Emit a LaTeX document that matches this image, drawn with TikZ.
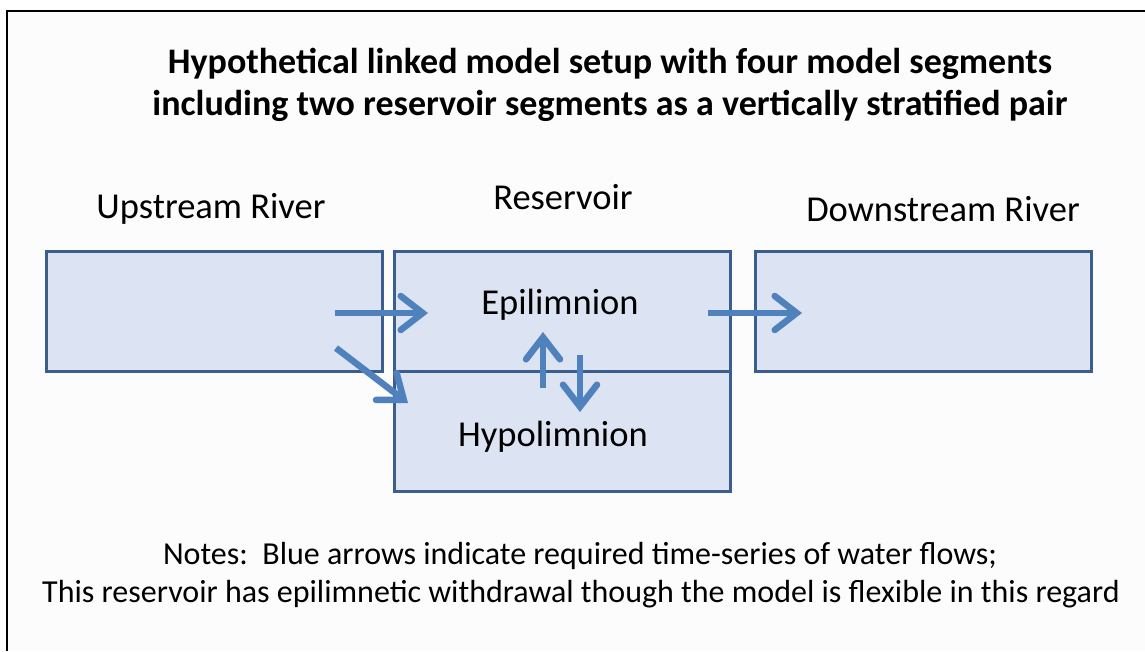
\documentclass[tikz,border=0pt]{standalone}
\usepackage{fontspec}
\setmainfont{Carlito}
\usetikzlibrary{arrows.meta}
\definecolor{segline}{HTML}{3A5F8E}
\definecolor{segfill}{HTML}{DCE3F2}
\definecolor{flowblue}{HTML}{4F81BD}
\definecolor{pagebg}{HTML}{FCFCFC}
\begin{document}
\begin{tikzpicture}[x=1pt, y=-1pt,
	seg/.style={draw=segline, fill=segfill, line width=3pt, minimum width=336pt, minimum height=120pt, inner sep=0pt},
	flow/.style={draw=flowblue, line width=6.5pt, -{Straight Barb[length=22pt, width=34pt, line cap=round]}},
	lbl/.style={font=\fontsize{36.5}{42}\selectfont},
	note/.style={font=\fontsize{32}{38}\selectfont},
	title/.style={font=\fontsize{36}{42}\selectfont\bfseries, align=center}]
	\useasboundingbox (0,0) rectangle (1145,651);
	%page frame
	\fill[pagebg] (7,11) rectangle (1145,651);
	\draw[line width=2pt] (1145,11) -- (7,11) -- (7,651);
	
	\node[title] (head) at (610,85){Hypothetical linked model setup with four model segments\\including two reservoir segments as a vertically stratified pair};
	
	%model segments
	\node[seg] (up) at (214.5,311){};
	\node[seg] (epi) at (562,311){};
	\node[seg] (hypo) at (562,431){};
	\node[seg] (down) at (923.5,311){};
	\node[lbl] (epitxt) at (560,305){Epilimnion};
	\node[lbl] (hypotxt) at (553,437){Hypolimnion};
	
	\node[lbl] (uplbl) at (211,209){Upstream River};
	\node[lbl] (reslbl) at (563,197){Reservoir};
	\node[lbl] (downlbl) at (943,209){Downstream River};
	
	%flows
	\coordinate (a1) at (335,313);
	\coordinate (a2) at (428,313);
	\coordinate (b1) at (336,348);
	\coordinate (b2) at (408,403);
	\coordinate (c1) at (543,388);
	\coordinate (c2) at (543,332);
	\coordinate (d1) at (580,355);
	\coordinate (d2) at (580,412);
	\coordinate (e1) at (708,313);
	\coordinate (e2) at (802,313);
	\draw[flow] (a1) -- (a2);
	\draw[flow] (b1) -- (b2);
	\draw[flow] (c1) -- (c2);
	\draw[flow] (d1) -- (d2);
	\draw[flow] (e1) -- (e2);
	
	\node[note] (note1) at (580,556){Notes:\ \ Blue arrows indicate required time-series of water flows;};
	\node[note] (note2) at (581,594){This reservoir has epilimnetic withdrawal though the model is flexible in this regard};
\end{tikzpicture}
\end{document}
